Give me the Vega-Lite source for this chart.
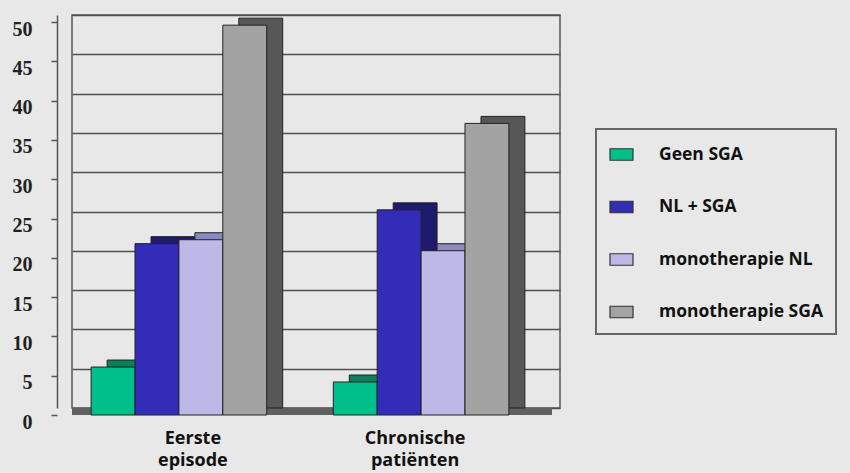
{
  "$schema": "https://vega.github.io/schema/vega-lite/v6.json",
  "width": 488,
  "height": 393,
  "autosize": "none",
  "padding": {"left": 72, "top": 15, "right": 290, "bottom": 65},
  "background": "#e8e8e8",
  "config": {
    "view": {"stroke": "#555555", "strokeWidth": 1.5, "fill": "#e8e8e8"},
    "legend": {
      "orient": "none",
      "legendX": 524,
      "legendY": 114,
      "padding": 13,
      "strokeColor": "#666666",
      "strokeWidth": 2,
      "fillColor": "#e8e8e8",
      "symbolType": "M-1,-0.5H1V0.5H-1Z",
      "symbolSize": 529,
      "symbolStrokeColor": "#333333",
      "symbolStrokeWidth": 1.2,
      "labelFont": "Open Sans",
      "labelFontWeight": "bold",
      "labelFontSize": 17.5,
      "labelColor": "#111111",
      "labelOffset": 25,
      "labelLimit": 300,
      "rowPadding": 31.5
    }
  },
  "data": {
    "values": [
      {"group": "Eerste episode", "series": "Geen SGA", "value": 6.1},
      {"group": "Eerste episode", "series": "NL + SGA", "value": 21.8},
      {"group": "Eerste episode", "series": "monotherapie NL", "value": 22.3},
      {"group": "Eerste episode", "series": "monotherapie SGA", "value": 49.6},
      {"group": "Chronische patiënten", "series": "Geen SGA", "value": 4.2},
      {"group": "Chronische patiënten", "series": "NL + SGA", "value": 26.1},
      {"group": "Chronische patiënten", "series": "monotherapie NL", "value": 20.9},
      {"group": "Chronische patiënten", "series": "monotherapie SGA", "value": 37.1}
    ]
  },
  "resolve": {"scale": {"x": "independent", "xOffset": "independent", "y": "independent", "color": "independent"}, "axis": {"x": "independent", "y": "independent"}},
  "layer": [
    {
      "mark": {"type": "rule", "color": "#606060", "strokeWidth": 7, "xOffset": -8, "yOffset": 3.5},
      "encoding": {
        "y": {"datum": 0, "type": "quantitative", "scale": {"domain": [0, 50]},
              "axis": {"orient": "right", "title": null, "values": [0, 5, 10, 15, 20, 25, 30, 35, 40, 45, 50],
                       "labels": false, "ticks": false, "domain": false,
                       "grid": true, "gridColor": "#505050", "gridWidth": 1.5}}
      }
    },
    {
      "mark": {"type": "bar", "stroke": "#222222", "strokeWidth": 1},
      "encoding": {
        "x": {"field": "group", "type": "nominal", "sort": ["Eerste episode", "Chronische patiënten"],
              "scale": {"paddingInner": 0.275, "paddingOuter": 0.145, "range": [0, 488]}, "axis": null},
        "xOffset": {"field": "series", "type": "nominal", "sort": ["Geen SGA", "NL + SGA", "monotherapie NL", "monotherapie SGA"]},
        "y": {"field": "value", "type": "quantitative", "scale": {"domain": [0, 50]}, "axis": null},
        "color": {"field": "series", "type": "nominal", "legend": null,
                 "scale": {"domain": ["Geen SGA", "NL + SGA", "monotherapie NL", "monotherapie SGA"],
                           "range": ["#0b7e5a", "#1e1a6c", "#8c89bc", "#575757"]}}
      }
    },
    {
      "mark": {"type": "bar", "stroke": "#222222", "strokeWidth": 1, "yOffset": 7},
      "encoding": {
        "x": {"field": "group", "type": "nominal", "sort": ["Eerste episode", "Chronische patiënten"],
              "scale": {"paddingInner": 0.275, "paddingOuter": 0.145, "range": [-16, 472]},
              "axis": {
                "title": null, "domain": false, "grid": false, "ticks": false,
                "offset": 7,
                "labelFont": "Open Sans", "labelFontWeight": "bold", "labelFontSize": 18, "labelColor": "#111111",
                "labelAngle": 0, "labelPadding": 14, "labelLineHeight": 22,
                "labelExpr": "split(datum.label, ' ')",
                "labelOffset": {"condition": {"test": "datum.value == 'Chronische patiënten'", "value": -6}, "value": 14}
              }},
        "xOffset": {"field": "series", "type": "nominal", "sort": ["Geen SGA", "NL + SGA", "monotherapie NL", "monotherapie SGA"]},
        "y": {"field": "value", "type": "quantitative", "scale": {"domain": [0, 50]},
              "axis": {
                "orient": "left", "title": null, "values": [0, 5, 10, 15, 20, 25, 30, 35, 40, 45, 50],
                "offset": 15, "domainColor": "#555555", "domainWidth": 1.5,
                "tickSize": 6, "tickColor": "#555555", "tickWidth": 1.5, "tickOffset": 7,
                "labelOffset": 7, "labelPadding": 19,
                "labelFont": "Liberation Serif", "labelFontWeight": "bold", "labelFontSize": 20, "labelColor": "#222222",
                "grid": false
              }},
        "color": {"field": "series", "type": "nominal",
                  "legend": {"title": null},
                  "scale": {"domain": ["Geen SGA", "NL + SGA", "monotherapie NL", "monotherapie SGA"],
                            "range": ["#00bf8a", "#332cb9", "#bcb9e7", "#a3a3a3"]}}
      }
    }
  ]
}
